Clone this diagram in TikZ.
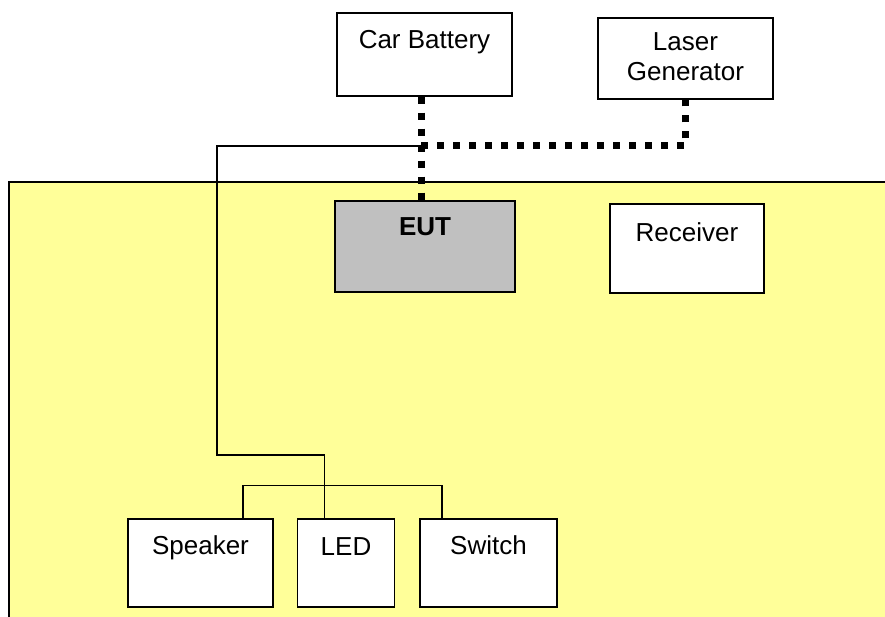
\documentclass[tikz,border=0pt]{standalone}
\usepackage{fontspec}
\setmainfont{Liberation Sans}
\usetikzlibrary{positioning}
\definecolor{benchyellow}{HTML}{FFFF99}
\definecolor{eutgray}{HTML}{C0C0C0}

\begin{document}
\begin{tikzpicture}[
        x=1pt, y=-1pt,
        font=\fontsize{26}{30}\selectfont,
        box/.style={draw, fill=white, line width=1.5pt, inner sep=0pt},
        txt/.style={anchor=north, inner sep=0pt, yshift=-17.5pt, align=center},
        wire/.style={line width=1.5pt},
        dots/.style={line width=7pt, dash pattern=on 7pt off 9pt}
    ]
        \useasboundingbox (0,0) rectangle (885,617);

        % test bench
        \fill[benchyellow] (9,182) rectangle (885,617);
        \draw[line width=1.5pt] (885,182) -- (9,182) -- (9,617);

        \coordinate (tap)  at (421,146);
        \coordinate (drop) at (217,455);

        \node[box, minimum width=175, minimum height=83, label={[txt]north:Car Battery}] (bat) at (424.5,54.5) {};
        \node[box, minimum width=175, minimum height=81, label={[txt, yshift=2pt]north:Laser\\Generator}] (laser) at (685.5,58.5) {};
        \node[box, fill=eutgray, minimum width=180, minimum height=91, label={[txt, font=\fontsize{26}{30}\selectfont\bfseries]north:EUT}] (eut) at (425,246.5) {};
        \node[box, minimum width=154, minimum height=89, label={[txt, yshift=-1.5pt]north:Receiver}] (recv) at (687,248.5) {};

        \node[box, minimum width=145, minimum height=88, label={[txt]north:Speaker}] (spk) at (200.5,563) {};
        \node[box, minimum width=97, minimum height=88, right=23pt of spk, label={[txt, yshift=-1.5pt]north:LED}] (led) {};
        \node[box, minimum width=137, minimum height=88, right=24pt of led, label={[txt]north:Switch}] (sw) {};

        % signal lines
        \draw[wire] (tap) -| (drop) -| ([xshift=-21.5pt]led.north);
        \draw[wire] ([xshift=42.5pt]spk.north) -- ++(0,-33) -| ([xshift=-46.5pt]sw.north);

        % power and laser feed
        \draw[dots] (bat.south -| tap) -- (eut.north -| tap);
        \draw[dots] (tap) -| (laser.south);
    \end{tikzpicture}
\end{document}
